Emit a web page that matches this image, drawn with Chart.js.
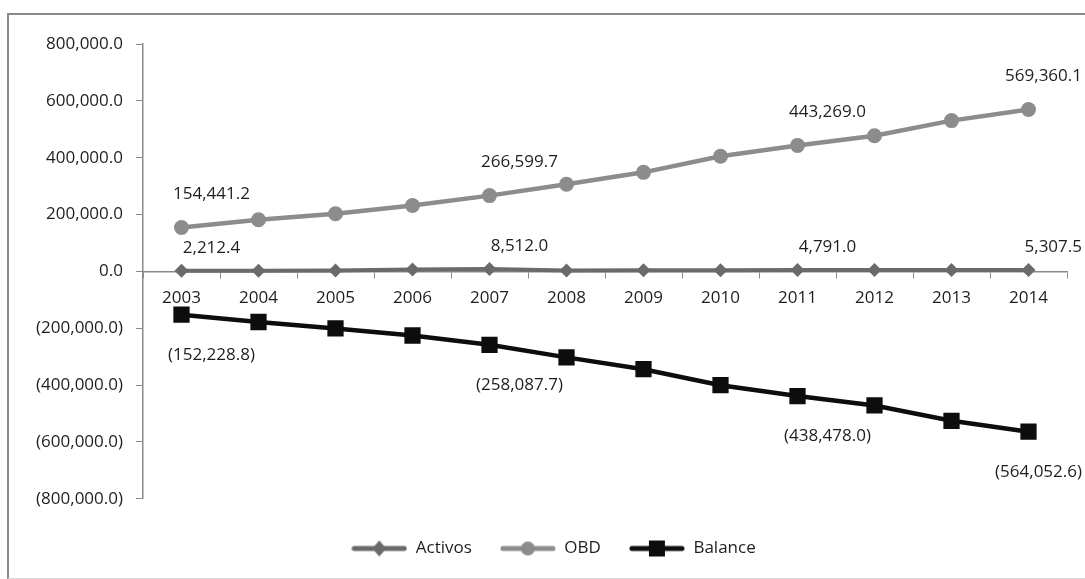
<!DOCTYPE html>
<html>
<head>
<meta charset="utf-8">
<script src="https://cdn.jsdelivr.net/npm/chart.js@4.4.1/dist/chart.umd.min.js"></script>
<style>
  html, body { margin: 0; padding: 0; background: #fff; }
  #wrap { position: relative; width: 1085px; height: 579px; overflow: hidden; }
  #frame { position: absolute; left: 7px; top: 13px; width: 1090px; height: 563px;
           border-left: 2px solid #8a8a8a; border-top: 2px solid #8a8a8a; border-bottom: 1px solid #d8d8d8; }
  canvas { position: absolute; left: 0; top: 0; }
</style>
</head>
<body>
<div id="wrap">
  <div id="frame"></div>
  <canvas id="c" width="1085" height="579"></canvas>
</div>
<script>
const years = ['2003','2004','2005','2006','2007','2008','2009','2010','2011','2012','2013','2014'];
const activos = [2212.4, 2600, 3000, 6500, 8512.0, 3600, 4000, 4300, 4791.0, 5000, 5200, 5307.5];
const obd = [154441.2, 181500, 203000, 232000, 266599.7, 306500, 348500, 405000, 443269.0, 477000, 530500, 569360.1];
const balance = [-152228.8, -178000, -200500, -225500, -258087.7, -302500, -344000, -400500, -438478.0, -471500, -525500, -564052.6];
const labeledIdx = [0, 4, 8, 11];
const seriesNames = ['Activos', 'OBD', 'Balance'];

const FONT = "'Open Sans', sans-serif";
const FS = 17;
const TXT = '#1e1e1e';

function fmt(v) {
  const s = Math.abs(v).toLocaleString('en-US', {minimumFractionDigits: 1, maximumFractionDigits: 1});
  return v < 0 ? '(' + s + ')' : s;
}

function legendIcon(color, style) {
  const c = document.createElement('canvas');
  c.width = 56; c.height = 20;
  const g = c.getContext('2d');
  g.strokeStyle = color; g.lineWidth = 5; g.lineCap = 'round';
  g.beginPath(); g.moveTo(3, 10); g.lineTo(53, 10); g.stroke();
  g.fillStyle = color;
  g.beginPath();
  if (style === 'diamond') {
    g.moveTo(28, 2); g.lineTo(35, 10); g.lineTo(28, 18); g.lineTo(21, 10); g.closePath();
  } else if (style === 'circle') {
    g.arc(28, 10, 7, 0, Math.PI * 2);
  } else {
    g.rect(20, 2, 16, 16);
  }
  g.fill();
  return c;
}

const colors = ['#6a6a6a', '#8c8c8c', '#0d0d0d'];
const icons = [legendIcon(colors[0], 'diamond'), legendIcon(colors[1], 'circle'), legendIcon(colors[2], 'square')];

const labelPlugin = {
  id: 'pointLabels',
  afterLayout(chart) {
    // centre the legend row like the reference (slightly right of canvas centre)
    chart.legend.left = 40;
  },
  afterDatasetsDraw(chart) {
    const ctx = chart.ctx;
    ctx.save();
    ctx.font = FS + 'px ' + FONT;
    ctx.fillStyle = TXT;
    ctx.textAlign = 'center';
    ctx.textBaseline = 'middle';
    chart.data.datasets.forEach((ds, di) => {
      const meta = chart.getDatasetMeta(di);
      labeledIdx.forEach(i => {
        const pt = meta.data[i];
        const txt = fmt(ds.data[i]);
        const w = ctx.measureText(txt).width;
        let x = pt.x + ds.labelDx;
        if (x + w / 2 > chart.width - 3) x = chart.width - 3 - w / 2;
        ctx.fillText(txt, x, pt.y + ds.labelDy);
      });
    });
    ctx.restore();
  }
};

new Chart(document.getElementById('c'), {
  type: 'line',
  data: {
    labels: years,
    datasets: [
      { label: seriesNames[0], data: activos, borderColor: colors[0], backgroundColor: colors[0],
        borderWidth: 4, pointStyle: 'rectRot', pointRadius: 7, pointBorderWidth: 0,
        labelDx: 30, labelDy: -23 },
      { label: seriesNames[1], data: obd, borderColor: colors[1], backgroundColor: colors[1],
        borderWidth: 4.5, pointStyle: 'circle', pointRadius: 7.5, pointBorderWidth: 0,
        labelDx: 30, labelDy: -33 },
      { label: seriesNames[2], data: balance, borderColor: colors[2], backgroundColor: colors[2],
        borderWidth: 4.5, pointStyle: 'rect', pointRadius: 11.5, pointBorderWidth: 0,
        labelDx: 30, labelDy: 40 }
    ]
  },
  options: {
    responsive: false,
    animation: false,
    events: [],
    layout: { padding: { left: 0, right: 18, top: 44, bottom: 12 } },
    font: { family: FONT, size: FS },
    scales: {
      x: {
        type: 'category',
        offset: true,
        position: { y: 0 },
        grid: { offset: true, drawOnChartArea: false, drawTicks: true, tickLength: 6, color: '#8a8a8a', lineWidth: 1 },
        border: { display: true, color: '#8a8a8a', width: 1.5 },
        ticks: { color: TXT, font: { family: FONT, size: FS }, padding: 11, maxRotation: 0, autoSkip: false }
      },
      y: {
        min: -800000, max: 800000,
        afterFit(s) { s.width = 143; },
        grid: { drawOnChartArea: false, drawTicks: true, tickLength: 7, color: '#8a8a8a' },
        border: { display: true, color: '#8a8a8a', width: 1.5 },
        ticks: { stepSize: 200000, color: TXT, font: { family: FONT, size: FS }, padding: 13,
                 callback: v => fmt(v) }
      }
    },
    plugins: {
      tooltip: { enabled: false },
      legend: {
        position: 'bottom',
        title: { display: true, text: '', font: { size: 1 }, padding: { top: 0, bottom: 12 } },
        labels: {
          usePointStyle: true,
          pointStyleWidth: 56,
          boxHeight: 17,
          padding: 28,
          color: TXT,
          font: { family: FONT, size: FS },
          generateLabels(chart) {
            return chart.data.datasets.map((ds, i) => ({
              text: ds.label, pointStyle: icons[i], fillStyle: colors[i], strokeStyle: colors[i],
              lineWidth: 0, hidden: false, datasetIndex: i, fontColor: TXT
            }));
          }
        }
      }
    }
  },
  plugins: [labelPlugin]
});
</script>
</body>
</html>
